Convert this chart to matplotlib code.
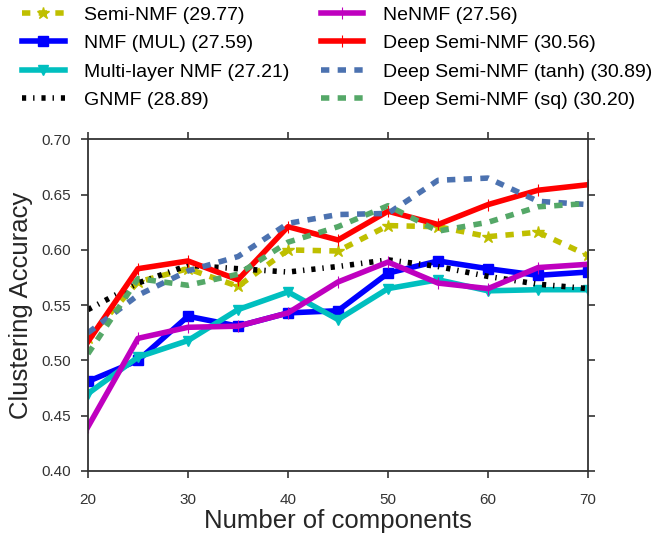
import matplotlib
matplotlib.use("Agg")
import matplotlib.pyplot as plt

plt.rcParams["font.family"] = ["Liberation Sans", "DejaVu Sans"]
plt.rcParams["lines.scale_dashes"] = False

components = [20, 25, 30, 35, 40, 45, 50, 55, 60, 65, 70]

semi_nmf = [0.520, 0.571, 0.583, 0.567, 0.600, 0.599, 0.622, 0.621, 0.612, 0.616, 0.595]
nmf_mul = [0.481, 0.500, 0.540, 0.531, 0.543, 0.545, 0.579, 0.590, 0.583, 0.577, 0.580]
multi_layer = [0.470, 0.503, 0.518, 0.546, 0.562, 0.537, 0.565, 0.573, 0.563, 0.564, 0.564]
gnmf = [0.546, 0.570, 0.586, 0.583, 0.580, 0.585, 0.591, 0.585, 0.576, 0.569, 0.565]
nenmf = [0.440, 0.520, 0.530, 0.531, 0.543, 0.571, 0.589, 0.570, 0.565, 0.584, 0.587]
deep_semi = [0.517, 0.583, 0.590, 0.573, 0.621, 0.609, 0.635, 0.623, 0.641, 0.654, 0.659]
deep_tanh = [0.525, 0.559, 0.581, 0.594, 0.624, 0.632, 0.633, 0.663, 0.665, 0.644, 0.641]
deep_sq = [0.506, 0.574, 0.568, 0.578, 0.607, 0.621, 0.640, 0.617, 0.625, 0.639, 0.642]

labels = [
    "Semi-NMF (29.77)",
    "NMF (MUL) (27.59)",
    "Multi-layer NMF (27.21)",
    "GNMF (28.89)",
    "NeNMF (27.56)",
    "Deep Semi-NMF (30.56)",
    "Deep Semi-NMF (tanh) (30.89)",
    "Deep Semi-NMF (sq) (30.20)",
]

fig = plt.figure(figsize=(6.58, 5.34), dpi=100)
ax = fig.add_axes([0.1337, 0.118, 0.76, 0.621])

lw = 4
ax.plot(components, semi_nmf, color=(0.75, 0.75, 0), lw=lw, dashes=(6, 6),
        marker="*", markersize=9, label=labels[0])
ax.plot(components, nmf_mul, color="#0000ff", lw=lw, marker="s",
        markersize=7, label=labels[1])
ax.plot(components, multi_layer, color=(0, 0.75, 0.75), lw=lw, marker="v",
        markersize=7, label=labels[2])
ax.plot(components, gnmf, color="black", lw=lw, dashes=(3, 5, 1, 5),
        label=labels[3])
ax.plot(components, nenmf, color=(0.75, 0, 0.75), lw=lw, marker="|",
        markersize=8, markeredgewidth=0.8, label=labels[4])
ax.plot(components, deep_semi, color="#ff0000", lw=lw, marker="|",
        markersize=8, markeredgewidth=0.8, label=labels[5])
ax.plot(components, deep_tanh, color="#4C72B0", lw=lw, dashes=(6, 6),
        label=labels[6])
ax.plot(components, deep_sq, color="#55A868", lw=lw, dashes=(6, 6),
        label=labels[7])

ax.set_xlim(20, 70)
ax.set_ylim(0.40, 0.70)
ax.set_xticks([20, 30, 40, 50, 60, 70])
ax.set_yticks([0.40, 0.45, 0.50, 0.55, 0.60, 0.65, 0.70])
ax.set_yticklabels(["%.2f" % v for v in ax.get_yticks()])
ax.tick_params(direction="out", top=True, right=True, length=5, width=1.2,
               labelsize=11, colors="#333333", pad=7)
ax.tick_params(axis="x", pad=11)
for sp in ax.spines.values():
    sp.set_color("#333333")
    sp.set_linewidth(1.3)

ax.set_xlabel("Number of components", fontsize=18.5, color="#262626", labelpad=1)
ax.set_ylabel("Clustering Accuracy", fontsize=18.5, color="#262626", labelpad=6)

fig.legend(loc="upper left", bbox_to_anchor=(22 / 658, 1 - 6 / 534),
           ncol=2, frameon=False, numpoints=1, fontsize=14,
           handlelength=2.2, handletextpad=1.0, columnspacing=1.6,
           labelspacing=0.56, borderpad=0, borderaxespad=0)

fig.savefig("out.png", dpi=100)
